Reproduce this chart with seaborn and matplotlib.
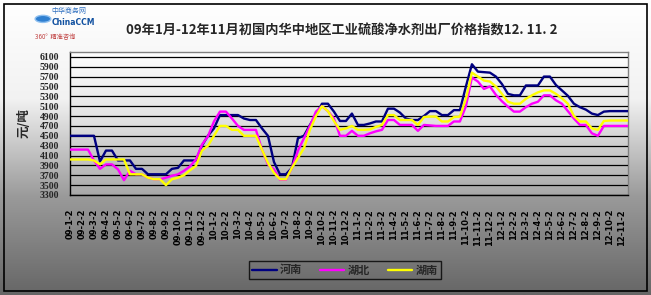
import numpy as np
import pandas as pd
import matplotlib
matplotlib.use("Agg")
import matplotlib.pyplot as plt
import seaborn as sns
from matplotlib.patches import Rectangle, Circle
from matplotlib.colors import LinearSegmentedColormap

sns.set_style("white")
plt.rcParams['font.family'] = ['Noto Sans CJK SC', 'DejaVu Sans']

# ---- data (half-month samples, Jan 2009 - Nov 2012) ----
henan = [4500, 4500, 4500, 4500, 4500, 3980, 4200, 4200, 4000, 4000,
         4000, 3830, 3830, 3720, 3720, 3720, 3720, 3830, 3850, 4000,
         4000, 4000, 4300, 4500, 4650, 4920, 4920, 4920, 4920, 4850,
         4820, 4820, 4650, 4500, 3970, 3720, 3720, 3850, 4450, 4500,
         4720, 4920, 5150, 5150, 4990, 4800, 4800, 4950, 4720, 4720,
         4750, 4790, 4790, 5050, 5050, 4970, 4850, 4820, 4820, 4900,
         5000, 5000, 4920, 4920, 5020, 5020, 5500, 5950, 5800, 5790,
         5780, 5700, 5550, 5350, 5320, 5320, 5520, 5520, 5520, 5700,
         5700, 5530, 5420, 5310, 5150, 5080, 5030, 4950, 4920, 4990,
         5000, 5000, 5000, 5000]
hubei = [4220, 4220, 4220, 4220, 4000, 3830, 3920, 3920, 3820, 3600,
         3790, 3720, 3720, 3650, 3620, 3620, 3650, 3690, 3720, 3790,
         3880, 4020, 4320, 4490, 4790, 4990, 4990, 4850, 4700, 4620,
         4620, 4620, 4220, 3920, 3820, 3610, 3610, 3850, 4200, 4450,
         4700, 4990, 5100, 5000, 4850, 4500, 4500, 4600, 4500, 4500,
         4550, 4590, 4620, 4820, 4820, 4720, 4720, 4720, 4600, 4720,
         4710, 4700, 4700, 4700, 4790, 4790, 5100, 5680, 5600, 5450,
         5500, 5330, 5200, 5090, 4990, 4990, 5080, 5150, 5190, 5320,
         5320, 5220, 5150, 5000, 4850, 4720, 4720, 4550, 4500, 4700,
         4700, 4700, 4700, 4700]
hunan = [4020, 4020, 4020, 4020, 4000, 3920, 4020, 4020, 4020, 4020,
         3720, 3720, 3720, 3650, 3620, 3620, 3500, 3620, 3650, 3700,
         3800, 3890, 4200, 4300, 4500, 4700, 4700, 4620, 4620, 4500,
         4500, 4500, 4220, 3950, 3750, 3620, 3620, 3850, 4050, 4250,
         4620, 4900, 5100, 5000, 4800, 4620, 4650, 4700, 4620, 4620,
         4630, 4680, 4720, 4920, 4920, 4820, 4820, 4820, 4720, 4880,
         4890, 4890, 4790, 4790, 4880, 4890, 5250, 5780, 5700, 5620,
         5600, 5500, 5350, 5190, 5150, 5150, 5250, 5320, 5380, 5420,
         5420, 5350, 5260, 5150, 4900, 4790, 4790, 4650, 4620, 4800,
         4810, 4810, 4810, 4810]
series_names = ["河南", "湖北", "湖南"]
colors = ["#000080", "#ff00ff", "#ffff00"]

years = [9] * 12 + [10] * 12 + [11] * 12 + [12] * 11
months = list(range(1, 13)) * 3 + list(range(1, 12))
tick_labels = [f"{y:02d}-{m}-2" for y, m in zip(years, months)]

yticks = list(range(3300, 6101, 200))
title = "09年1月-12年11月初国内华中地区工业硫酸净水剂出厂价格指数12. 11. 2"

# ---- dataframe ----
n = len(henan)
df = pd.DataFrame({
    "idx": list(range(n)) * 3,
    "value": henan + hubei + hunan,
    "province": [series_names[0]] * n + [series_names[1]] * n + [series_names[2]] * n,
})

fig = plt.figure(figsize=(6.51, 2.95), dpi=100)

# figure background gradient
bg = fig.add_axes([0, 0, 1, 1], zorder=-10)
grad = np.linspace(0, 1, 256).reshape(-1, 1)
cmap_bg = LinearSegmentedColormap.from_list("bg", ["#ffffff", "#f2f2f2", "#9a9a9a", "#666666"])
bg.imshow(grad, aspect="auto", cmap=cmap_bg, extent=[0, 1, 0, 1], origin="upper")
bg.set_xlim(0, 1); bg.set_ylim(0, 1)
bg.axis("off")
bg.add_patch(Rectangle((0.006, 0.012), 0.988, 0.976, fill=False, edgecolor="black", lw=1.2))
# logo globe
bg.add_patch(Circle((0.066, 0.936), 0.012, transform=bg.transAxes, facecolor="#2f7fd0",
                    edgecolor="#8fc0f0", lw=1))

ax = fig.add_axes([0.1075, 0.339, 0.857, 0.485])
cmap_ax = LinearSegmentedColormap.from_list("ax", ["#ffffff", "#e0e0e0", "#a8a8a8"])
ax.imshow(grad, aspect="auto", cmap=cmap_ax, extent=[0, 1, 0, 1], origin="upper",
          transform=ax.transAxes, zorder=0)

sns.lineplot(data=df, x="idx", y="value", hue="province", hue_order=series_names,
             palette=colors, linewidth=1.7, ax=ax, zorder=3, legend=True)

ax.set_xlim(0, n - 1)
ax.set_ylim(3300, 6200)
ax.set_yticks(yticks)
ax.set_yticklabels([str(v) for v in yticks], fontsize=7, fontweight="bold",
                   family="Liberation Serif")
ax.yaxis.grid(True, color="black", lw=0.9, zorder=1)
ax.set_axisbelow(False)
ax.set_xticks(list(range(0, 2 * len(tick_labels), 2)))
ax.set_xticklabels(tick_labels, rotation=90, fontsize=6, fontweight="bold",
                   family="DejaVu Sans")
ax.tick_params(axis="x", direction="out", length=3, width=0.8, pad=7, colors="black")
ax.tick_params(axis="y", length=0, pad=8)
ax.set_xlabel("")
ax.set_ylabel("元/吨", fontsize=9, fontweight="bold", labelpad=6)
for s in ["left", "bottom"]:
    ax.spines[s].set_color("black"); ax.spines[s].set_linewidth(1)
for s in ["top", "right"]:
    ax.spines[s].set_color("#808080"); ax.spines[s].set_linewidth(1)

handles, labels = ax.get_legend_handles_labels()
ax.get_legend().remove()
leg = fig.legend(handles, labels, loc="center", bbox_to_anchor=(0.53, 0.085), ncol=3,
                 frameon=True, fancybox=False, edgecolor="black", facecolor="none",
                 prop={"family": ["Noto Sans CJK SC"], "weight": "bold", "size": 8},
                 handlelength=2.2, columnspacing=1.6, borderpad=0.25, handletextpad=0.3)
leg.get_frame().set_linewidth(1)

fig.text(0.525, 0.895, title, ha="center", va="center", fontsize=9.5, fontweight="bold")

# logo text
fig.text(0.079, 0.962, "中华商务网", ha="left", va="center", fontsize=5, color="#3070c0")
fig.text(0.079, 0.925, "ChinaCCM", ha="left", va="center", fontsize=5.5, color="#1050a0",
         fontweight="bold", family="DejaVu Sans")
fig.text(0.085, 0.875, "360°  精准咨询", ha="center", va="center", fontsize=4.5, color="#c04040")

fig.savefig("out.png", dpi=100)
